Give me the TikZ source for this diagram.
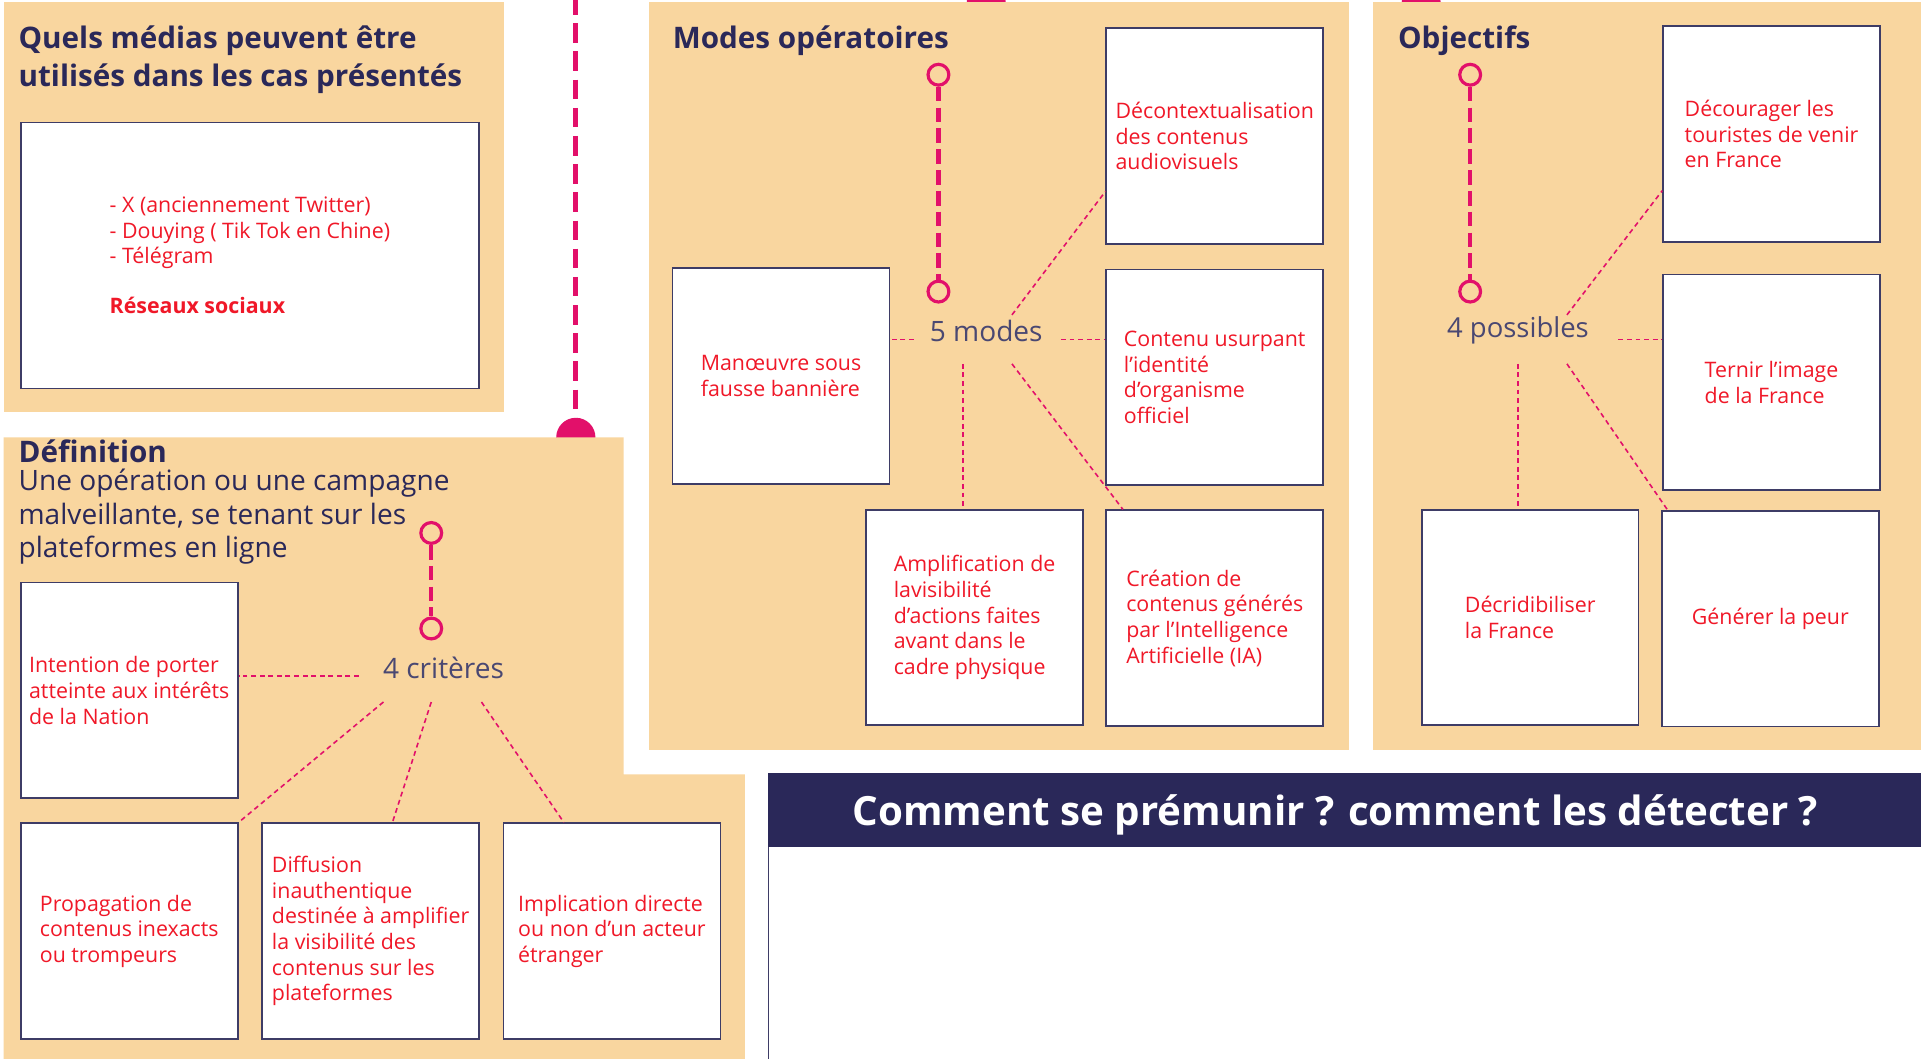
\documentclass[tikz,border=0pt]{standalone}
\usepackage{fontspec}
\setmainfont{Open Sans}
\usetikzlibrary{calc}
\definecolor{beige}{RGB}{249,214,159}
\definecolor{marine}{RGB}{42,40,89}
\definecolor{rose}{RGB}{226,16,106}
\definecolor{rouge}{RGB}{240,24,40}
\definecolor{cadre}{RGB}{62,60,102}
\tikzset{
  carte/.style={draw=cadre, line width=1.4bp, fill=white, minimum width=177bp, minimum height=176bp,
    align=left, text=rouge, font=\fontsize{17.5}{21}\selectfont, inner sep=0},
  titre/.style={anchor=west, text=marine, font=\fontsize{24.3}{31}\selectfont\bfseries, align=left, inner sep=0},
  pivot/.style={text=marine!85, font=\fontsize{23}{26}\selectfont, inner sep=0},
  anneau/.style={circle, draw=rose, line width=2.6bp, fill=beige, minimum size=17bp, inner sep=0},
  tige/.style={rose, line width=3.5bp, dash pattern=on 12bp off 5bp},
  lien/.style={rose, line width=1.3bp, dash pattern=on 4bp off 3bp},
}
\begin{document}
\begin{tikzpicture}[x=1bp,y=-1bp]
\useasboundingbox (0,0) rectangle (1568,864);
\clip (0,0) rectangle (1568,864);
\fill[white] (0,0) rectangle (1568,864);
% Ligne verticale et pastilles
\fill[rose] (470,357) circle (16);
\fill[rose] (805,3) circle (16);
\fill[rose] (1160,3) circle (16);
\draw[rose, line width=4bp, dash pattern=on 16bp off 7bp] (470,-4) -- (470,345);
% Panneaux
\fill[beige] (3,2) rectangle (411,336);
\fill[beige] (3,357) -- (509,357) -- (509,632) -- (608,632) -- (608,870) -- (3,870) -- cycle;
\fill[beige] (530,2) rectangle (1101,612);
\fill[beige] (1121,2) rectangle (1575,612);

% Quels medias
\node[titre] (t1) at (15,49) {Quels médias peuvent être\\utilisés dans les cas présentés};
\node[carte, minimum width=374bp, minimum height=217bp] (medias) at (204,208.5)
  {- X (anciennement Twitter)\\- Douying ( Tik Tok en Chine)\\- Télégram\\[20bp]\textbf{Réseaux sociaux}};

% Definition
\node[titre] (t2) at (15,368) {Définition};
\node[anchor=west, text=marine, font=\fontsize{23}{27.5}\selectfont, align=left, inner sep=0] (def) at (15,422)
  {Une opération ou une campagne\\malveillante, se tenant sur les\\plateformes en ligne};
\node[anneau] (d0) at (352,435) {};
\node[anneau] (d1) at (352,513) {};
\draw[tige] (d0) -- (d1);
\node[pivot] (crit) at (362,545) {4 critères};
\node[carte] (intention) at (105.5,563.5) {Intention de porter\\atteinte aux intérêts\\de la Nation};
\node[carte] (propag) at (105.5,760) {Propagation de\\contenus inexacts\\ou trompeurs};
\node[carte] (diffusion) at (302.5,760) {Diffusion\\inauthentique\\destinée à amplifier\\la visibilité des\\contenus sur les\\plateformes};
\node[carte] (implic) at (499.5,760) {Implication directe\\ou non d'un acteur\\étranger};
\coordinate (cG) at (293,552);
\coordinate (c1) at (313,573);
\coordinate (c2) at (352,573);
\coordinate (c3) at (393,573);
\draw[lien] (cG) -- (cG -| intention.east);
\draw[lien] (c1) -- (propag.north east);
\draw[lien] (c2) -- ($(diffusion.north west)!0.6!(diffusion.north east)$);
\draw[lien] (c3) -- ($(implic.north west)!0.28!(implic.north east)$);

% Modes operatoires
\node[titre] (t3) at (549,33.5) {Modes opératoires};
\node[anneau] (m0) at (766,61) {};
\node[anneau] (m1) at (766,238) {};
\draw[tige] (m0) -- (m1);
\node[pivot] (modes) at (805,270) {5 modes};
\node[carte] (decontext) at (991.5,111) {Décontextualisation\\des contenus\\audiovisuels};
\node[carte] (manoeuvre) at (637.5,307) {Manœuvre sous\\fausse bannière};
\node[carte] (usurp) at (991.5,308) {Contenu usurpant\\l'identité\\d'organisme\\officiel};
\node[carte] (amplif) at (795.5,504) {Amplification de\\lavisibilité\\d'actions faites\\avant dans le\\cadre physique};
\node[carte] (creation) at (991.5,504.5) {Création de\\contenus générés\\par l'Intelligence\\Artificielle (IA)};
\coordinate (mG) at (746,277);
\coordinate (mD) at (866,277);
\coordinate (mH) at (826,257);
\coordinate (mB) at (786,297);
\coordinate (mC) at (826,297);
\draw[lien] (mG) -- (mG -| manoeuvre.east);
\draw[lien] (mD) -- (mD -| usurp.west);
\draw[lien] (mH) -- ($(decontext.north west)!0.755!(decontext.south west)$);
\draw[lien] (mB) -- (mB |- amplif.north);
\draw[lien] (mC) -- ($(creation.north west)!0.08!(creation.north east)$);

% Objectifs
\node[titre] (t4) at (1141,33.5) {Objectifs};
\node[anneau] (o0) at (1200,61) {};
\node[anneau] (o1) at (1200,238) {};
\draw[tige] (o0) -- (o1);
\node[pivot, font=\fontsize{22.5}{26}\selectfont] (poss) at (1239,270) {4 possibles};
\node[carte] (decourag) at (1446,109.5) {Décourager les\\touristes de venir\\en France};
\node[carte] (ternir) at (1446,312) {Ternir l'image\\de la France};
\node[carte] (decredib) at (1249,504) {Décridibiliser\\la France};
\node[carte] (generer) at (1445,505) {Générer la peur};
\coordinate (oD) at (1321,277);
\coordinate (oH) at (1279,257);
\coordinate (oB) at (1239,297);
\coordinate (oC) at (1279,297);
\draw[lien] (oD) -- (oD -| ternir.west);
\draw[lien] (oH) -- ($(decourag.north west)!0.76!(decourag.south west)$);
\draw[lien] (oB) -- (oB |- decredib.north);
\draw[lien] (oC) -- ($(generer.north west)!0.03!(generer.north east)$);

% Bandeau
\fill[white, draw=cadre, line width=1bp] (627,691) rectangle (1580,880);
\fill[marine] (627,631) rectangle (1575,691);
\node[text=white, font=\fontsize{33}{38}\selectfont\bfseries, inner sep=0] (entete) at (1090,665)
  {Comment se prémunir ? comment les détecter ?};
\end{tikzpicture}
\end{document}
